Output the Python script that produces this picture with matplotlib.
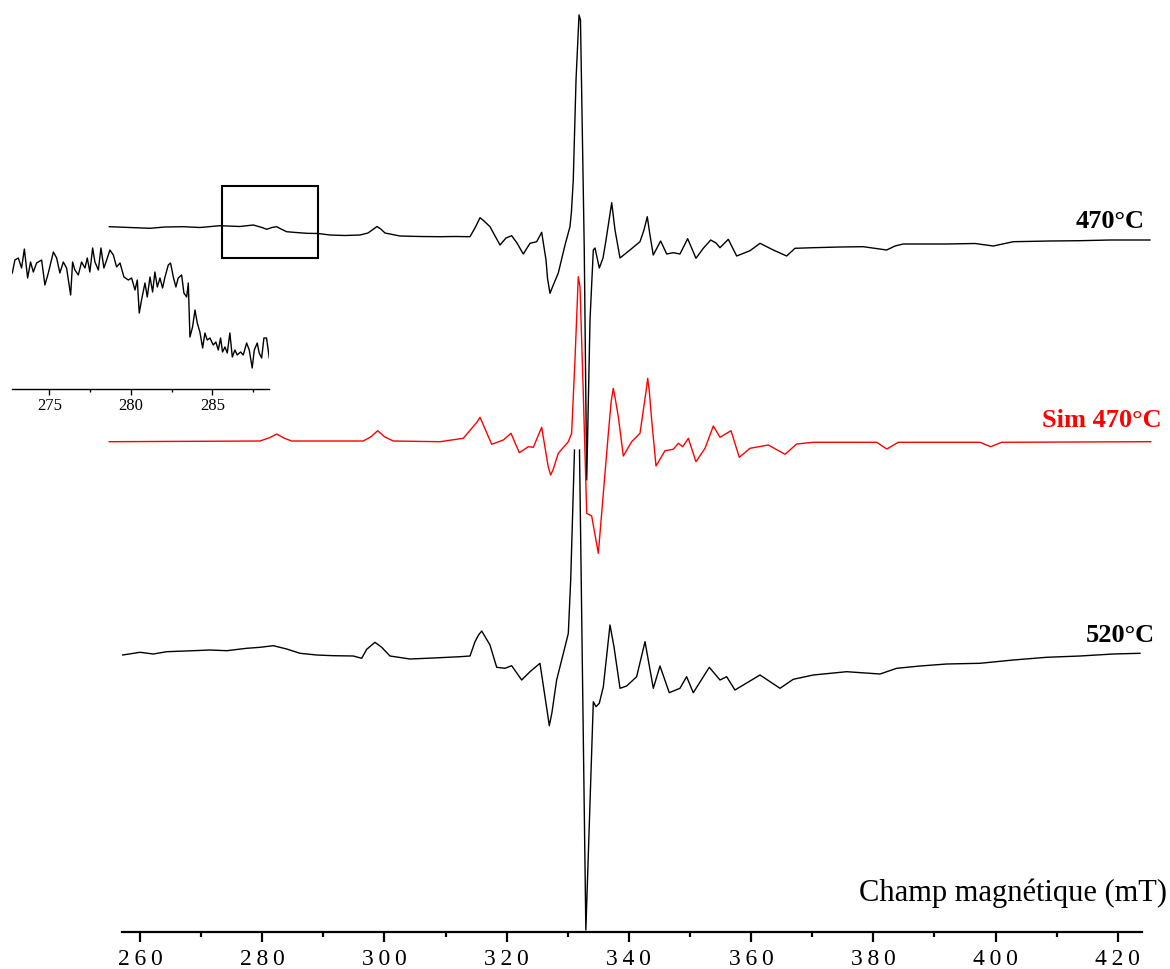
import numpy as np
import matplotlib
matplotlib.use("Agg")
import matplotlib.pyplot as plt
from matplotlib.patches import Rectangle

# spectra: field (mT) and signal (arbitrary units, baseline ~ 0)
field_470 = [254.98, 258.36, 261.64, 264.09, 267.09, 269.82, 273.09, 276.36, 278.54, 279.96,
             280.73, 281.6, 282.37, 283.07, 284.0, 285.53, 287.28, 289.13, 291.09, 293.55,
             296.0, 297.31, 298.0, 298.78, 299.4, 300.09, 302.55, 305.82, 309.09, 311.55,
             314.0, 314.9, 315.64, 316.3, 317.27, 318.91, 319.89, 320.82, 321.69, 322.72,
             323.82, 324.91, 325.73, 326.44, 326.7, 327.09, 327.5, 328.45, 329.55, 330.36,
             330.6, 330.9, 331.35, 331.84, 332.08, 332.7, 333.1, 333.64, 334.18, 334.46,
             335.16, 335.77, 336.26, 337.19, 337.73, 338.55, 340.18, 341.82, 342.47, 343.01,
             343.45, 343.99, 345.2, 346.19, 347.27, 348.36, 349.62, 350.98, 352.18, 353.39,
             354.25, 354.91, 356.27, 357.64, 359.82, 361.46, 363.63, 365.82, 367.18, 370.18,
             374.55, 378.36, 382.19, 383.55, 384.9, 392.01, 396.64, 399.63, 402.91, 408.91,
             413.82, 418.73, 425.28]
signal_470 = [10.3, 9.5, 8.7, 10, 10.3, 9.5, 11.3, 10.5, 12, 9.5,
              7.7, 9.5, 10.3, 8, 5.3, 4.5, 3.7, 3.5, 2, 1.5,
              2, 4, 7, 10.5, 8, 4, 1, 0.5, 0.3, 0.5,
              0.3, 10, 19.3, 16, 10.3, -8, -1, 1.3, -6, -17,
              -6.3, -4.7, 4.7, -23, -42, -56.3, -50, -36, -8, 10.3,
              25, 57, 157, 222, 217, -13, -243, -83, -13, -11,
              -31, -21, -3, 34.3, 7, -21, -13, -4.7, 7, 20.3,
              2, -18, -4, -17, -15.7, -17, -1.7, -21.3, -11.3, -3,
              -6, -10.7, -2.3, -19, -13.7, -6.3, -13, -19, -11.3, -10.7,
              -10, -9.7, -13, -9, -7, -7, -6.5, -9, -4.7, -4,
              -3.7, -3, -3]

field_sim = [254.98, 279.64, 281.2, 282.37, 283.6, 284.82, 296.54, 297.8, 298.9, 300.0,
             301.45, 309.09, 312.9, 315.2, 315.64, 316.1, 317.55, 319.45, 320.71, 322.07,
             323.54, 324.36, 325.73, 326.8, 327.2, 327.6, 328.45, 330.09, 330.63, 331.18,
             331.72, 332.0, 332.54, 333.1, 333.91, 335.0, 335.82, 336.64, 337.1, 337.45,
             337.8, 338.27, 339.09, 340.46, 341.82, 342.8, 343.08, 343.35, 343.73, 344.44,
             345.91, 347.27, 348.09, 348.81, 349.73, 350.98, 352.46, 353.82, 354.91, 356.71,
             358.07, 359.82, 362.82, 365.55, 367.46, 370.18, 380.55, 382.19, 384.09, 397.45,
             399.2, 401.0, 425.39]
signal_sim = [0, 0.7, 4, 7.7, 3.5, 0.7, 0.7, 5, 11, 5,
              0.7, 0, 3.4, 20, 24.4, 18, -2.6, 1.7, 8.4, -11,
              -5, -5.6, 14.4, -25, -33.3, -28, -11.6, 0, 8.4, 81.7,
              165, 155, 48.4, -71.6, -74.3, -111.6, -51.6, 8.4, 40, 53.4,
              42, 25, -14.3, 0, 8.4, 50, 63.4, 50, 21.7, -24.3,
              -9, -7.6, -1.6, -5, 3.4, -20, -6.6, 15.7, 4.4, 11,
              -15.6, -6.6, -3.3, -12.6, -2.3, -0.6, -0.6, -7.3, -0.6, -0.6,
              -5, -0.6, 0]

field_520 = [257.17, 260, 262.18, 264.37, 268.72, 271.45, 274.19, 277.46, 279.64, 281.82,
             284.0, 286.18, 288.91, 291.63, 294.9, 296.28, 297.1, 298.45, 299.55, 300.91,
             304.18, 308.0, 312.36, 314.0, 314.82, 315.4, 315.92, 316.5, 317.27, 318.37,
             319.73, 320.82, 322.46, 323.82, 325.45, 326.6, 326.98, 327.4, 328.18, 329.55,
             330.09, 330.48, 331.1, 331.5, 331.92, 332.96, 334.18, 334.62, 335.16, 335.82,
             336.91, 337.56, 338.55, 339.64, 341.27, 342.64, 344.0, 345.09, 346.61, 348.36,
             349.45, 350.54, 353.16, 354.91, 356.0, 357.36, 361.46, 364.73, 366.9, 370.18,
             375.64, 381.1, 383.83, 387.64, 392.01, 397.45, 402.91, 408.37, 413.82, 419.28,
             423.64]
signal_520 = [0, 2.7, 1, 3.3, 4.3, 5, 4.3, 6.7, 7.7, 9.3,
              6, 1.7, 0, -0.7, -1, -3.3, 5.7, 12.7, 7.7, -1,
              -4, -3, -1.7, -1, 13.3, 20, 24, 18, 10, -12.3,
              -13.3, -10.7, -25, -16.7, -8.3, -55, -70.7, -58, -25, 8.3,
              21.7, 75, 205, np.nan, 205, -275, -46.7, -51.7, -48.3, -31.7,
              30, 8.3, -33.3, -31, -21.7, 13.3, -33.3, -11, -37.7, -33.3,
              -21.7, -37.7, -12.3, -25, -21.7, -35, -20, -33.3, -24.3, -20,
              -16.7, -19, -13.3, -11, -9, -8.3, -5, -2.3, -1, 1,
              1.7]

# zoomed part of the 470°C spectrum (inset)
zoom_field = [272.73, 272.89, 273.10, 273.30, 273.47, 273.67, 273.85, 274.02, 274.22, 274.53,
              274.73, 274.94, 275.25, 275.45, 275.65, 275.86, 276.06, 276.31, 276.43, 276.57,
              276.78, 276.98, 277.19, 277.33, 277.49, 277.66, 277.80, 278.01, 278.17, 278.35,
              278.52, 278.72, 278.93, 279.13, 279.34, 279.58, 279.85, 280.05, 280.26, 280.40,
              280.52, 280.66, 280.87, 281.01, 281.18, 281.34, 281.48, 281.63, 281.79, 281.95,
              282.10, 282.30, 282.44, 282.61, 282.77, 282.91, 283.12, 283.26, 283.43, 283.53,
              283.63, 283.79, 283.94, 284.08, 284.24, 284.41, 284.55, 284.69, 284.86, 285.06,
              285.22, 285.37, 285.51, 285.63, 285.78, 285.92, 286.08, 286.23, 286.39, 286.53,
              286.74, 286.90, 287.11, 287.27, 287.45, 287.58, 287.76, 287.88, 288.03, 288.17,
              288.33, 288.50]
zoom_signal = [107, 120, 122, 112, 131, 102, 118, 108, 117, 120,
               95, 107, 128, 122, 107, 118, 112, 85, 118, 110,
               105, 118, 112, 122, 108, 132, 118, 110, 132, 112,
               120, 130, 125, 113, 117, 103, 100, 102, 90, 100,
               67, 80, 97, 83, 103, 88, 108, 93, 102, 92,
               103, 115, 117, 103, 93, 102, 105, 87, 83, 97,
               43, 53, 70, 57, 48, 32, 47, 40, 42, 35,
               38, 30, 42, 28, 33, 27, 47, 23, 30, 25,
               28, 25, 37, 30, 12, 30, 37, 27, 22, 42,
               42, 22]

major_ticks = [260, 280, 300, 320, 340, 360, 380, 400, 420]
minor_ticks = [270, 290, 310, 330, 350, 370, 390, 410]
zoom_major = [275, 280, 285]
zoom_minor = [277.5, 282.5, 287.5]

plt.rcParams['font.family'] = ['Liberation Serif', 'DejaVu Serif']

fig = plt.figure(figsize=(11.7, 9.69), dpi=100)
ax = fig.add_axes([0, 0, 1, 1])
ax.patch.set_alpha(0)
ax.set_xlim(237.09, 428.55)
ax.set_ylim(-37.3, 931.7)

# vertical offsets of the stacked spectra
off_470, off_sim, off_520 = 694.7, 490, 276.7
ax.plot(field_470, np.array(signal_470) + off_470, color="black", lw=1.0)
ax.plot(field_sim, np.array(signal_sim) + off_sim, color="red", lw=1.0)
ax.plot(field_520, np.array(signal_520) + off_520, color="black", lw=1.0)

# box marking the zoomed region
ax.add_patch(Rectangle((273.4, 674), 15.7, 72, fill=False, lw=1.5, color="black"))

for s in ["top", "left", "right"]:
    ax.spines[s].set_visible(False)
ax.spines["bottom"].set_position(("data", 0))
ax.spines["bottom"].set_bounds(257.05, 423.93)
ax.spines["bottom"].set_linewidth(1.6)
ax.set_yticks([])
ax.set_xticks(major_ticks)
ax.set_xticklabels(["\u2009".join(str(t)) for t in major_ticks])
ax.set_xticks(minor_ticks, minor=True)
ax.tick_params(axis="x", which="major", direction="out", length=7.5, width=1.6,
               labelsize=17, pad=5)
ax.tick_params(axis="x", which="minor", direction="out", length=3.5, width=1.6)

ax.text(428.0, 31, "Champ magnétique (mT)", fontsize=22, ha="right", va="baseline")
ax.text(424.46, 710, "470°C", fontsize=19, fontweight="bold", ha="right", va="center")
ax.text(427.2, 511.7, "Sim 470°C", fontsize=19, fontweight="bold", color="red",
        ha="right", va="center")
ax.text(426.1, 296.7, "520°C", fontsize=19, fontweight="bold", ha="right", va="center")

# inset
axin = fig.add_axes([12.3 / 1170, 1 - 389.3 / 969, 257 / 1170, 149.3 / 969])
axin.patch.set_alpha(0)
axin.plot(zoom_field, zoom_signal, color="black", lw=1.0)
axin.set_xlim(272.73, 288.5)
axin.set_ylim(-9.3, 140)
for s in ["top", "left", "right"]:
    axin.spines[s].set_visible(False)
axin.spines["bottom"].set_linewidth(1.0)
axin.set_yticks([])
axin.set_xticks(zoom_major)
axin.set_xticks(zoom_minor, minor=True)
axin.tick_params(axis="x", which="major", direction="out", length=4, width=1.0,
                 labelsize=12, pad=2)
axin.tick_params(axis="x", which="minor", direction="out", length=2.5, width=1.0)

fig.savefig("out.png", dpi=100)
